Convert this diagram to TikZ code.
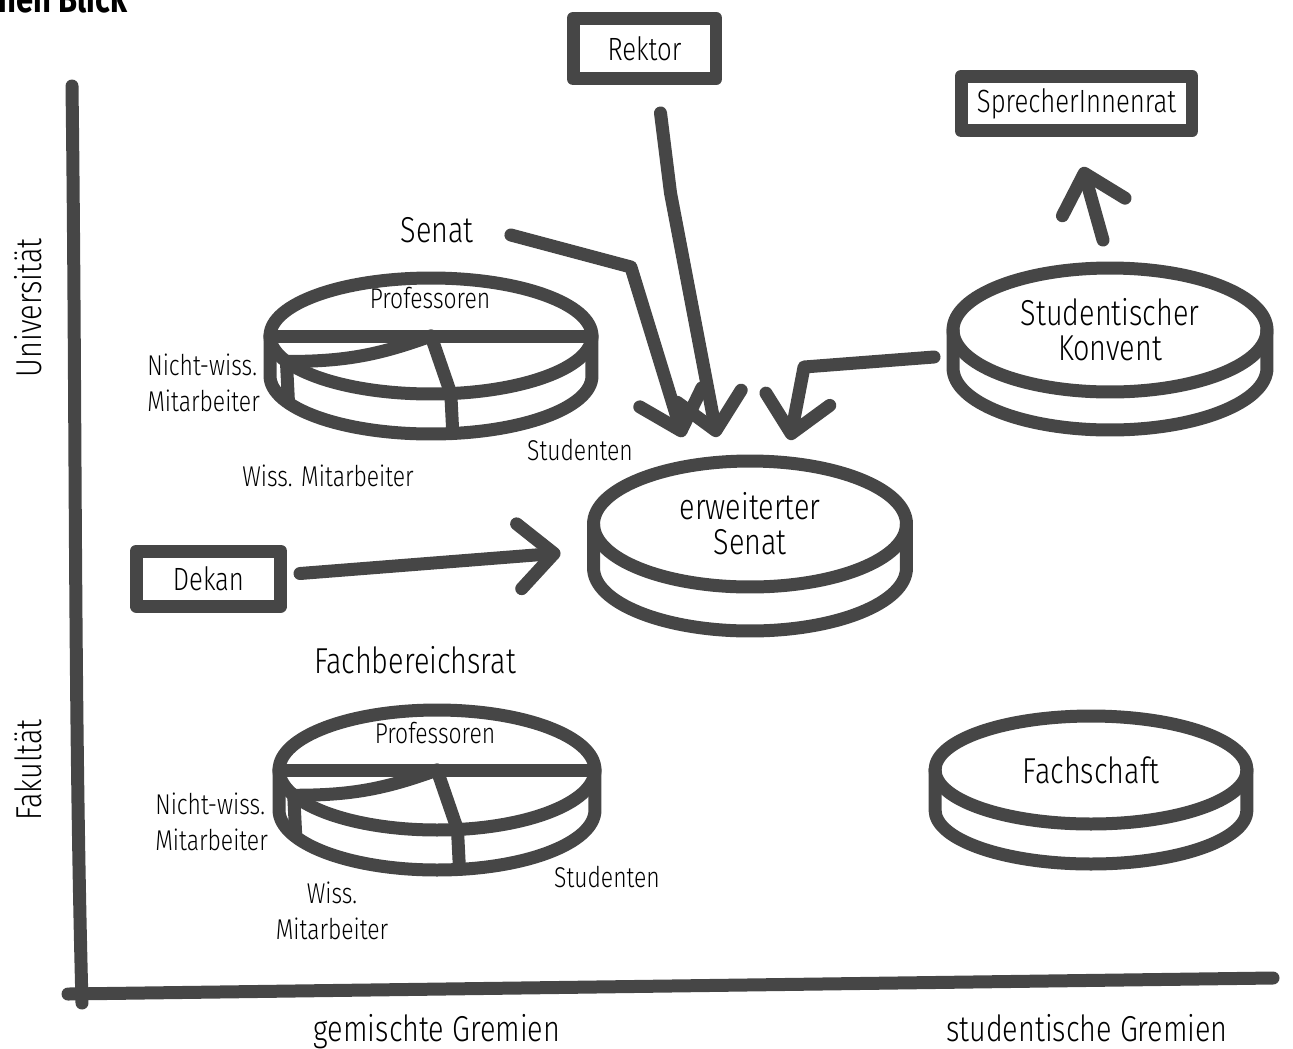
\documentclass[tikz,border=0pt]{standalone}
\usepackage{fontspec}
\setmainfont{Fira Sans Light}[FakeStretch=0.8]
\newfontfamily\headfont{Fira Sans}[FakeStretch=0.8]
\usetikzlibrary{shapes.geometric, arrows.meta, positioning, calc}
\definecolor{ink}{RGB}{70,70,70}
\tikzset{
  pen/.style={draw=ink, line width=0.26cm, line cap=round, line join=round},
  arrow/.style={pen, -{Straight Barb[length=7mm, width=13mm, round]}},
  box/.style={rectangle, pen, outer sep=0pt, inner sep=0pt,
              font=\fontsize{18.3}{20.4}\selectfont},
  disc/.style={ellipse, pen, outer sep=0pt, inner sep=0pt, align=center,
               font=\fontsize{20.5}{20}\selectfont},
  biglabel/.style={font=\fontsize{20.5}{20}\selectfont, inner sep=0pt},
  smalllabel/.style={font=\fontsize{16.3}{20.4}\selectfont, inner sep=0pt},
}

\begin{document}
\begin{tikzpicture}[x=0.02cm, y=-0.02cm]
  \useasboundingbox (0,0) rectangle (1293,1048);

  \node[font=\headfont\bfseries\fontsize{22}{24}\selectfont, anchor=base west,
        inner sep=0pt] (title) at (-2,12) {nen Blick};

  % axes
  \draw[pen] (72,86) .. controls (76,400) and (74,700) .. (82,1003);
  \draw[pen] (68,994) -- (1273,978);
  \node[biglabel, rotate=90] (uni) at (28,308) {Universität};
  \node[biglabel, rotate=90] (fak) at (28,770) {Fakultät};
  \node[biglabel, anchor=base] (gem) at (437,1041) {gemischte Gremien};
  \node[biglabel, anchor=base] (stud) at (1087,1041) {studentische Gremien};

  % boxes
  \node[box, minimum width=2.86cm, minimum height=1.22cm] (rektor) at (644.5,48.5) {Rektor};
  \node[box, minimum width=4.62cm, minimum height=1.1cm] (sprecher) at (1076.5,103.5) {SprecherInnenrat};
  \node[box, minimum width=2.9cm, minimum height=1.1cm] (dekan) at (208.5,578.5) {Dekan};

  % Senat
  \node[biglabel] (senatlbl) at (437,230) {Senat};
  \node[disc, minimum width=6.44cm, minimum height=2.32cm] (senat) at (431,336) {};
  \draw[pen] (senat.west) -- ++(0,40)
    arc[start angle=180, end angle=360, x radius=3.22cm, y radius=1.16cm] -- (senat.east);
  \draw[pen] (senat.west) -- (senat.east);
  \draw[pen] (senat.center) to[bend left=10] (senat.190) -- ++(2,40);
  \draw[pen] (senat.center) -- (senat.289) -- ++(2,40);
  \node[smalllabel] (prof1) at (430,298) {Professoren};
  \node[smalllabel, align=left, anchor=west] (nw1) at (147,383) {Nicht-wiss.\\Mitarbeiter};
  \node[smalllabel] (wm1) at (328,476) {Wiss. Mitarbeiter};
  \node[smalllabel] (st1) at (580,450) {Studenten};

  % Fachbereichsrat
  \node[biglabel] (fbrlbl) at (415,660) {Fachbereichsrat};
  \node[disc, minimum width=6.32cm, minimum height=2.4cm] (fbr) at (437,770) {};
  \draw[pen] (fbr.west) -- ++(0,40)
    arc[start angle=180, end angle=360, x radius=3.16cm, y radius=1.2cm] -- (fbr.east);
  \draw[pen] (fbr.west) -- (fbr.east);
  \draw[pen] (fbr.center) to[bend left=10] (fbr.190) -- ++(2,40);
  \draw[pen] (fbr.center) -- (fbr.289) -- ++(2,40);
  \node[smalllabel] (prof2) at (435,733) {Professoren};
  \node[smalllabel, align=left, anchor=west] (nw2) at (155,822) {Nicht-wiss.\\Mitarbeiter};
  \node[smalllabel, align=center] (wm2) at (332,911) {Wiss.\\Mitarbeiter};
  \node[smalllabel] (st2) at (607,877) {Studenten};

  % erweiterter Senat
  \node[disc, minimum width=6.26cm, minimum height=2.52cm] (erw) at (750,524) {erweiterter\\Senat};
  \draw[pen] (erw.west) -- ++(0,44)
    arc[start angle=180, end angle=360, x radius=3.13cm, y radius=1.26cm] -- (erw.east);

  % studentische Gremien
  \node[disc, minimum width=6.28cm, minimum height=2.48cm] (konvent) at (1110,330) {Studentischer\\Konvent};
  \draw[pen] (konvent.west) -- ++(0,38)
    arc[start angle=180, end angle=360, x radius=3.14cm, y radius=1.24cm] -- (konvent.east);
  \node[disc, minimum width=6.24cm, minimum height=2.16cm] (fachschaft) at (1091,770) {Fachschaft};
  \draw[pen] (fachschaft.west) -- ++(0,40)
    arc[start angle=180, end angle=360, x radius=3.12cm, y radius=1.08cm] -- (fachschaft.east);

  % arrows
  \draw[arrow] (senatlbl.east) ++(37,5) -- ++(120,32) -- ($(erw.north)+(-67,-24)$);
  \draw[arrow] ($(rektor.south)+(16,34)$) -- ++(10,80) -- ($(erw.north)+(-33,-24)$);
  \draw[arrow] ($(konvent.west)+(-19,27)$) -- ++(-130,10) -- ($(erw.north)+(40,-21)$);
  \draw[arrow] ($(konvent.north)+(-7,-28)$) -- ($(sprecher.south)+(6,36)$);
  \draw[arrow] ($(dekan.east)+(19,-5)$) -- ($(erw.west)+(-33,29)$);
\end{tikzpicture}
\end{document}
